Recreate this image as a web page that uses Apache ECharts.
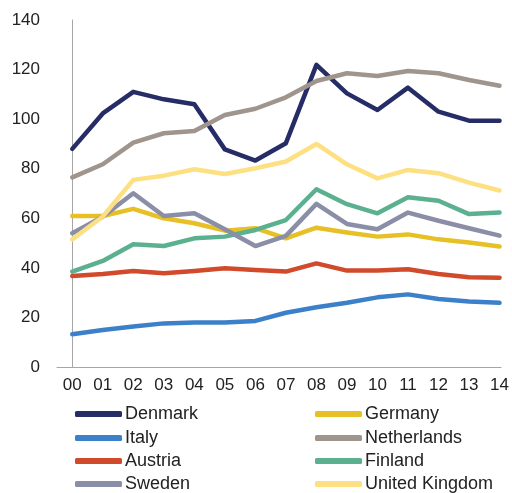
<!DOCTYPE html>
<html><head><meta charset="utf-8">
<script src="https://cdn.jsdelivr.net/npm/echarts@6/dist/echarts.min.js"></script>
<style>html,body{margin:0;padding:0;background:#fff}#c{width:512px;height:493px}</style>
</head><body><div id="c"></div>
<script>
const categories = ['00','01','02','03','04','05','06','07','08','09','10','11','12','13','14'];
const yTicks = [0,20,40,60,80,100,120,140];
const denmark     = [88,102.3,111,108,106,87.8,83.3,90.3,121.9,110.4,103.7,112.7,103,99.4,99.4];
const germany     = [60.9,60.9,63.8,60,58,55,56,51.9,56.2,54.3,52.6,53.5,51.5,50.2,48.6];
const italy       = [13.2,14.9,16.3,17.6,18,18,18.6,21.9,24.1,25.9,28.1,29.3,27.4,26.4,25.9];
const netherlands = [76.5,81.8,90.5,94.3,95.2,101.7,104.2,108.8,115.4,118.5,117.4,119.4,118.5,115.8,113.5];
const austria     = [36.7,37.5,38.7,37.8,38.7,39.8,39.1,38.5,41.8,38.9,38.9,39.4,37.5,36.2,36];
const finland     = [38.5,42.8,49.5,48.8,51.9,52.6,55.3,59.3,71.7,65.7,62,68.5,67.1,61.7,62.3];
const sweden      = [54,60.6,70.1,60.9,62,55.6,48.8,52.9,65.8,57.7,55.6,62.3,59,56,53];
const uk          = [51.5,60.7,75.5,77.2,79.8,77.9,80.2,82.9,90,81.8,76.1,79.5,78.2,74.4,71.2];

const seriesDefs = [
  ['Denmark', denmark, '#262d66'],
  ['Germany', germany, '#e6c024'],
  ['Italy', italy, '#3b80c8'],
  ['Netherlands', netherlands, '#a0958d'],
  ['Austria', austria, '#d24a2c'],
  ['Finland', finland, '#5bb08f'],
  ['Sweden', sweden, '#8a8ea6'],
  ['United Kingdom', uk, '#fde081']
];
const font = 'Liberation Sans, Arial, sans-serif';
const chart = echarts.init(document.getElementById('c'), null, {renderer:'canvas'});
const legendLefts = [75, 315];
const legendTops = [405, 429, 452, 475];
const legends = seriesDefs.map(([name], i) => ({
  orient:'horizontal', left: legendLefts[i % 2], top: legendTops[Math.floor(i / 2)],
  padding:0, itemWidth: 47, itemHeight: 6,
  textStyle:{fontSize:18, color:'#222', fontFamily:font, padding:[0,0,0,-2]},
  icon: 'roundRect', data:[name]
}));
chart.setOption({
  animation:false,
  grid:{left:57, right:10, top:20, bottom:126, containLabel:false},
  xAxis:{
    type:'value', min:-0.5, max:14.05,
    axisLine:{show:true, onZero:false, lineStyle:{color:'#a6a6a6', width:1}},
    axisTick:{show:false}, splitLine:{show:false},
    axisLabel:{customValues: categories.map((c,i)=>i), formatter:(v)=>categories[Math.round(v)],
      fontSize:17, color:'#222', fontFamily:font, margin:10}
  },
  yAxis:{
    type:'value', min:0, max:140, interval:20,
    axisLine:{show:true, lineStyle:{color:'#a6a6a6', width:1}},
    axisTick:{show:false}, splitLine:{show:false},
    axisLabel:{customValues: yTicks, fontSize:17, color:'#222', fontFamily:font, margin:17}
  },
  legend: legends,
  series: seriesDefs.map(([name, vals, color]) => ({
    name, type:'line', symbol:'none', smooth:false,
    data: vals.map((v,i)=>[i,v]),
    itemStyle:{color}, lineStyle:{color, width:4.5, cap:'round', join:'round'}
  }))
});
</script></body></html>
